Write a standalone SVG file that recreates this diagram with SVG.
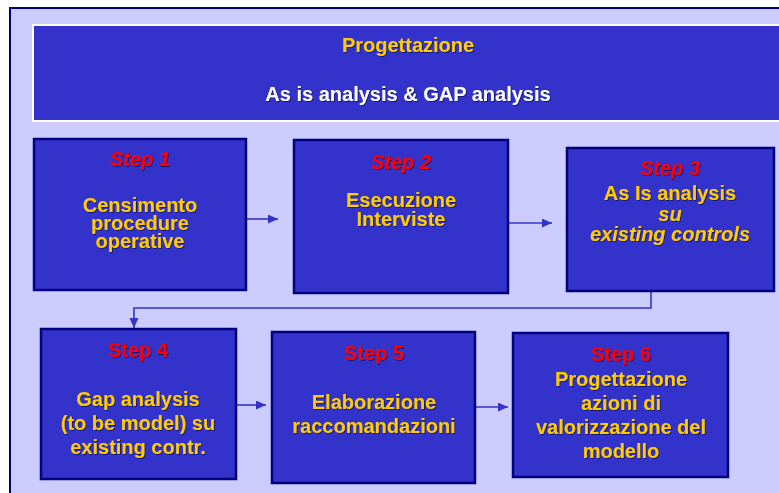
<svg xmlns="http://www.w3.org/2000/svg" width="779" height="493" viewBox="0 0 779 493">
<defs>
<style>
.box{fill:#3333CC;stroke:#000080;stroke-width:2.5}
.t{font-family:"Liberation Sans",Arial,sans-serif;font-weight:bold;font-size:20px;text-anchor:middle}
.y{fill:#FFCC00}
.r{fill:#FF0000}
.w{fill:#FFFFFF}
.i{font-style:italic}
.c{fill:none;stroke:#3333CC;stroke-width:1.6}
</style>
<filter id="sh" x="-10%" y="-10%" width="120%" height="130%">
<feDropShadow dx="1" dy="1" stdDeviation="0.4" flood-color="#000033" flood-opacity="0.55"/>
</filter>
<marker id="ah" markerUnits="userSpaceOnUse" markerWidth="11" markerHeight="10" refX="10" refY="4.5" orient="auto">
<path d="M0,0 L10,4.5 L0,9 z" fill="#3333CC"/>
</marker>
</defs>
<rect x="0" y="0" width="779" height="493" fill="#FFFFFF"/>
<rect x="10" y="8" width="780" height="500" fill="#CCCCFF" stroke="#000080" stroke-width="2"/>
<g id="header">
<rect x="33" y="25" width="760" height="96" fill="#3333CC" stroke="#FFFFFF" stroke-width="2"/>
<g filter="url(#sh)">
<text class="t y" x="408" y="52">Progettazione</text>
<text class="t w" x="408" y="101">As is analysis &amp; GAP analysis</text>
</g>
</g>
<g id="connectors">
<line class="c" x1="246" y1="219" x2="278" y2="219" marker-end="url(#ah)"/>
<line class="c" x1="508" y1="223" x2="552" y2="223" marker-end="url(#ah)"/>
<polyline class="c" points="651,291 651,308 134,308 134,328" marker-end="url(#ah)"/>
<line class="c" x1="236" y1="405" x2="266" y2="405" marker-end="url(#ah)"/>
<line class="c" x1="475" y1="407" x2="508" y2="407" marker-end="url(#ah)"/>
</g>
<g id="step1">
<rect class="box" x="34" y="139" width="212" height="151"/>
<g filter="url(#sh)">
<text class="t r i" x="140" y="166">Step 1</text>
<text class="t y" x="140" y="212">Censimento</text>
<text class="t y" x="140" y="230">procedure</text>
<text class="t y" x="140" y="248">operative</text>
</g>
</g>
<g id="step2">
<rect class="box" x="294" y="140" width="214" height="153"/>
<g filter="url(#sh)">
<text class="t r i" x="401" y="169">Step 2</text>
<text class="t y" x="401" y="207">Esecuzione</text>
<text class="t y" x="401" y="226">Interviste</text>
</g>
</g>
<g id="step3">
<rect class="box" x="567" y="148" width="207" height="143"/>
<g filter="url(#sh)">
<text class="t r i" x="670" y="175">Step 3</text>
<text class="t y" x="670" y="200">As Is analysis</text>
<text class="t y i" x="670" y="221">su</text>
<text class="t y i" x="670" y="241">existing controls</text>
</g>
</g>
<g id="step4">
<rect class="box" x="41" y="329" width="195" height="150"/>
<g filter="url(#sh)">
<text class="t r" x="138" y="357">Step 4</text>
<text class="t y" x="138" y="406">Gap analysis</text>
<text class="t y" x="138" y="430">(to be model) su</text>
<text class="t y" x="138" y="454">existing contr.</text>
</g>
</g>
<g id="step5">
<rect class="box" x="272" y="332" width="203" height="151"/>
<g filter="url(#sh)">
<text class="t r" x="374" y="360">Step 5</text>
<text class="t y" x="374" y="409">Elaborazione</text>
<text class="t y" x="374" y="433">raccomandazioni</text>
</g>
</g>
<g id="step6">
<rect class="box" x="513" y="333" width="215" height="144"/>
<g filter="url(#sh)">
<text class="t r" x="621" y="361">Step 6</text>
<text class="t y" x="621" y="386">Progettazione</text>
<text class="t y" x="621" y="410">azioni di</text>
<text class="t y" x="621" y="434">valorizzazione del</text>
<text class="t y" x="621" y="458">modello</text>
</g>
</g>
</svg>
